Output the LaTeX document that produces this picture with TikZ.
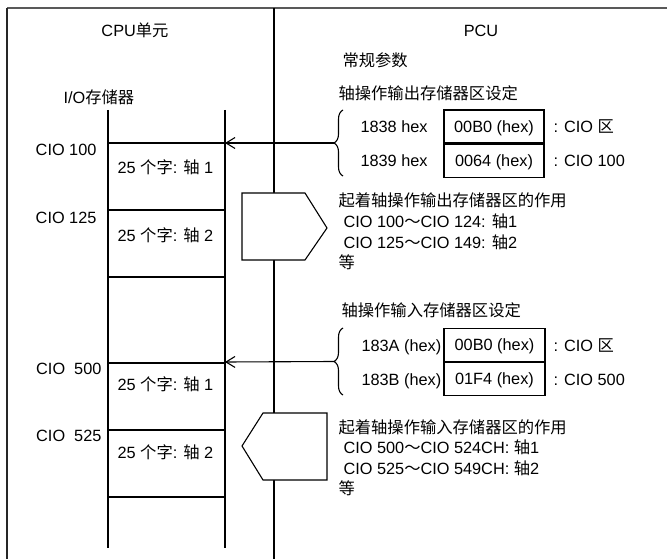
\documentclass[tikz,border=0pt]{standalone}
\usepackage{fontspec}
\setmainfont{Liberation Sans}
\newfontfamily\cjk{Noto Sans CJK SC}
\newcommand\zh[1]{{\cjk #1}}
\usetikzlibrary{arrows.meta,decorations.pathreplacing}
\begin{document}
\begin{tikzpicture}[x=1pt,y=-1pt,line width=1.1pt,
  txt/.style={anchor=base west,inner sep=0pt,font=\fontsize{16.3}{19}\selectfont},
  txtr/.style={txt,anchor=base east},
  txtc/.style={txt,anchor=base},
  cell/.style={draw,minimum width=100pt,minimum height=33pt,inner sep=0pt,
    text height=11.7pt,text depth=0pt,font=\fontsize{16.3}{19}\selectfont},
  feed/.style={-{Straight Barb[length=9pt,width=11pt,line width=1.1pt]}},
  bracestyle/.style={decorate,decoration={brace,amplitude=9pt}},
  flag/.style={draw,fill=white,line join=miter}
]
\useasboundingbox (0,0) rectangle (667,559);

% frame
\draw[black!65,line width=2pt] (7,8.5) -- (667,8.5);
\draw[black!85] (7,8.5) -- (7,559);
\draw (274,8.5) -- (274,559);

% headings
\node[txtc] (cpu) at (135,37) {CPU\zh{单元}};
\node[txtc] (pcu) at (481,37) {PCU};
\node[txt] (io) at (63,104) {I/O\zh{存储器}};

% memory column
\draw (108,110) -- (108,548);
\draw (225,110) -- (225,548);
\foreach \yy in {143,210,277,363,430,497} \draw (108,\yy) -- (225,\yy);

\node[txtr] (c100) at (97,156) {CIO 100};
\node[txtr] (c125) at (97,223) {CIO 125};
\node[txtr] (c500) at (102,374) {CIO\ \ 500};
\node[txtr] (c525) at (102,441) {CIO\ \ 525};
\node[txt] (w1) at (117,174) {25 \zh{个字}: \zh{轴} 1};
\node[txt] (w2) at (117,241) {25 \zh{个字}: \zh{轴} 2};
\node[txt] (w3) at (117,390) {25 \zh{个字}: \zh{轴} 1};
\node[txt] (w4) at (117,458) {25 \zh{个字}: \zh{轴} 2};

% PCU side, output
\node[txt] (gp) at (342,67) {\zh{常规参数}};
\node[txt] (outset) at (338,100) {\zh{轴操作输出存储器区设定}};
\node[txt] (a1838) at (360,133) {1838 hex};
\node[txt] (a1839) at (360,167) {1839 hex};
\node[cell] (v1) at (494,126.5) {00B0 (hex)};
\node[cell,anchor=north] (v2) at (v1.south) {0064 (hex)};
\node[txt] (m1) at (553,133) {: CIO \zh{区}};
\node[txt] (m2) at (553,167) {: CIO 100};

\draw[bracestyle] (343,176) -- coordinate[xshift=-9pt] (bt1) (343,110);
\coordinate (ct1) at (225,143);
\draw[feed] (bt1) -- (ct1);

\draw[flag] (242,193) -- (305,193) -- (327,228) -- (305,260) -- (242,260) -- cycle;

\node[txt] (ofunc) at (338,206) {\zh{起着轴操作输出存储器区的作用}};
\node[txt] (o1) at (343,227) {CIO 100\zh{～}CIO 124: \zh{轴}1};
\node[txt] (o2) at (343,248) {CIO 125\zh{～}CIO 149: \zh{轴}2};
\node[txt] (o3) at (338,268) {\zh{等}};

% PCU side, input
\node[txt] (inset) at (341,316) {\zh{轴操作输入存储器区设定}};
\node[txt] (a183A) at (361,351) {183A (hex)};
\node[txt] (a183B) at (361,385) {183B (hex)};
\node[cell,minimum width=101pt] (v3) at (494.5,345) {00B0 (hex)};
\node[cell,minimum width=101pt,anchor=north] (v4) at (v3.south) {01F4 (hex)};
\node[txt] (m3) at (553,351) {: CIO \zh{区}};
\node[txt] (m4) at (553,385) {: CIO 500};

\draw[bracestyle] (343,395) -- coordinate[xshift=-9pt] (bt2) (343,328);
\coordinate (ct2) at (225,362);
\draw[feed] (bt2) -- (ct2);

\draw[flag] (242,446) -- (263,413) -- (327,413) -- (327,480) -- (263,480) -- cycle;

\node[txt] (ifunc) at (338,433) {\zh{起着轴操作输入存储器区的作用}};
\node[txt] (i1) at (343,453) {CIO 500\zh{～}CIO 524CH: \zh{轴}1};
\node[txt] (i2) at (343,474) {CIO 525\zh{～}CIO 549CH: \zh{轴}2};
\node[txt] (i3) at (338,494) {\zh{等}};
\end{tikzpicture}
\end{document}
